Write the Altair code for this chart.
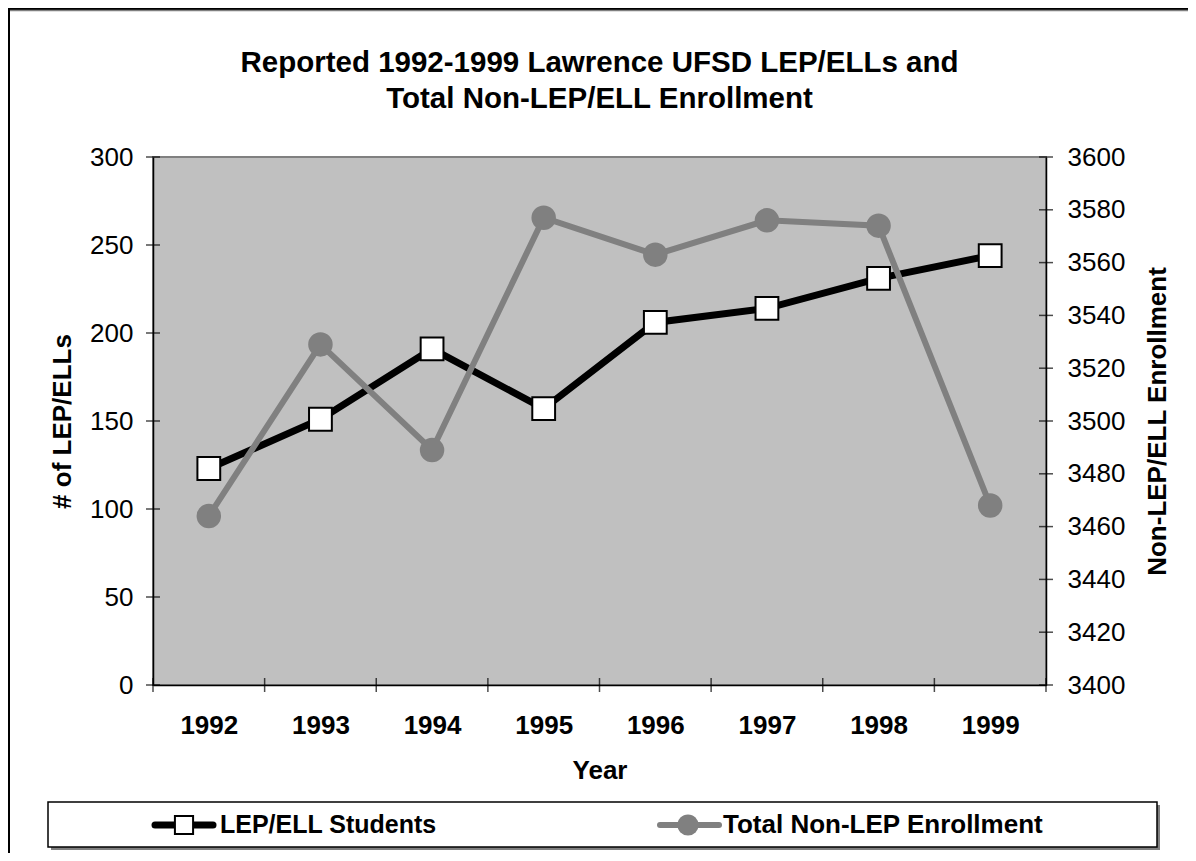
import altair as alt
import pandas as pd

# ---- data ----
years = [1992, 1993, 1994, 1995, 1996, 1997, 1998, 1999]
lep_students = [123, 151, 191, 157, 206, 214, 231, 244]
non_lep_enrollment = [3464, 3529, 3489, 3577, 3563, 3576, 3574, 3468]
left_tick_values = [0, 50, 100, 150, 200, 250, 300]
right_tick_values = [3400, 3420, 3440, 3460, 3480, 3500, 3520, 3540, 3560, 3580, 3600]
year_boundaries = [1991.5, 1992.5, 1993.5, 1994.5, 1995.5, 1996.5, 1997.5, 1998.5, 1999.5]
title_lines = ["Reported 1992-1999 Lawrence UFSD LEP/ELLs and", "Total Non-LEP/ELL Enrollment"]
series_names = ["LEP/ELL Students", "Total Non-LEP Enrollment"]
left_title = "# of LEP/ELLs"
right_title = "Non-LEP/ELL Enrollment"
x_title = "Year"

FONT = "Liberation Sans, Arial, Helvetica, sans-serif"
W, H = 893, 528
PAD = {"left": 145, "top": 149, "right": 142, "bottom": 168}
GRAY = "#808080"

df = pd.DataFrame({"year": years, "lep": lep_students, "non": non_lep_enrollment})
one = pd.DataFrame({"k": [0]})

x_axis = alt.Axis(
    title=x_title, values=years, format="d", ticks=False, tickSize=0, grid=False,
    domainColor="black", domainWidth=1.5,
    labelFont=FONT, labelFontSize=26, labelFontWeight="bold", labelColor="black",
    labelPadding=40, labelBaseline="middle", labelFlush=False, labelOverlap=False,
    titleFont=FONT, titleFontSize=26, titleFontWeight="bold", titleColor="black",
    titleY=85, titleBaseline="middle",
)


def xenc(field):
    return alt.X(f"{field}:Q", scale=alt.Scale(domain=[1991.5, 1999.5], nice=False, zero=False), axis=x_axis)


left_axis = alt.Axis(
    title=left_title, values=left_tick_values, format="d", ticks=False, tickSize=0, grid=False,
    domainColor="black", domainWidth=1.5,
    labelFont=FONT, labelFontSize=26, labelColor="black", labelPadding=20,
    titleFont=FONT, titleFontSize=26, titleFontWeight="bold", titleColor="black",
    titleX=-91, titleY=H / 2, titleAngle=270, titleAlign="center", titleBaseline="middle",
)
right_axis = alt.Axis(
    title=right_title, orient="right", values=right_tick_values, format="d", ticks=False, tickSize=0,
    grid=False, domainColor="black", domainWidth=1.5,
    labelFont=FONT, labelFontSize=26, labelColor="black", labelPadding=21,
    titleFont=FONT, titleFontSize=26, titleFontWeight="bold", titleColor="black",
    titleX=111, titleY=H / 2, titleAngle=270, titleAlign="center", titleBaseline="middle",
)


def yleft(field):
    return alt.Y(f"{field}:Q", scale=alt.Scale(domain=[0, 300], nice=False), axis=left_axis)


def yright(field):
    return alt.Y(f"{field}:Q", scale=alt.Scale(domain=[3400, 3600], nice=False, zero=False), axis=right_axis)


# ---- decorations: outer frame and legend box ----
frame_left = alt.Chart(one).mark_rule(color="black", strokeWidth=2).encode(
    x=alt.value(-144), y=alt.value(-148), y2=alt.value(H + PAD["bottom"]))
frame_top = alt.Chart(one).mark_rule(color="black", strokeWidth=2).encode(
    x=alt.value(-145), x2=alt.value(W + PAD["right"]), y=alt.value(-148))
frame_top_shadow = alt.Chart(one).mark_rule(color=GRAY, strokeWidth=1.5).encode(
    x=alt.value(-143), x2=alt.value(W + PAD["right"]), y=alt.value(-146.5))

LX0, LX1, LY0, LY1 = -105, 1004, 645, 690
LYC = 668
legend_shadow = alt.Chart(one).mark_rect(color=GRAY).encode(
    x=alt.value(LX0 + 3), x2=alt.value(LX1 + 3), y=alt.value(LY0 + 3), y2=alt.value(LY1 + 3))
legend_box = alt.Chart(one).mark_rect(fill="white", stroke="black", strokeWidth=1.5).encode(
    x=alt.value(LX0), x2=alt.value(LX1), y=alt.value(LY0), y2=alt.value(LY1))
leg1_line = alt.Chart(one).mark_rule(color="black", strokeWidth=7, strokeCap="round").encode(
    x=alt.value(2), x2=alt.value(60), y=alt.value(LYC))
leg1_pt = alt.Chart(one).mark_point(shape="square", filled=True, fill="white", stroke="black",
                                    strokeWidth=2, size=330, opacity=1).encode(
    x=alt.value(31), y=alt.value(LYC))
leg1_txt = alt.Chart(one).mark_text(text=series_names[0], font=FONT, fontSize=25, fontWeight="bold",
                                    align="left", baseline="middle", color="black").encode(
    x=alt.value(67), y=alt.value(LYC))
leg2_line = alt.Chart(one).mark_rule(color=GRAY, strokeWidth=6, strokeCap="round").encode(
    x=alt.value(507), x2=alt.value(566), y=alt.value(LYC))
leg2_pt = alt.Chart(one).mark_circle(color=GRAY, size=450, opacity=1).encode(
    x=alt.value(535), y=alt.value(LYC))
leg2_txt = alt.Chart(one).mark_text(text=series_names[1], font=FONT, fontSize=26, fontWeight="bold",
                                    align="left", baseline="middle", color="black").encode(
    x=alt.value(570), y=alt.value(LYC))

# ---- tick marks crossing the axes ----
x_ticks = alt.Chart(pd.DataFrame({"b": year_boundaries})).mark_tick(
    orient="vertical", size=14, thickness=1.5, color="black").encode(x=xenc("b"), y=alt.value(H))
left_ticks = alt.Chart(pd.DataFrame({"v": left_tick_values})).mark_tick(
    orient="horizontal", size=14, thickness=1.5, color="black").encode(y=yleft("v"), x=alt.value(0))
right_ticks = alt.Chart(pd.DataFrame({"v": right_tick_values})).mark_tick(
    orient="horizontal", size=14, thickness=1.5, color="black").encode(y=yright("v"), x=alt.value(W))

# ---- data series ----
base = alt.Chart(df)
lep_line = base.mark_line(color="black", strokeWidth=7).encode(x=xenc("year"), y=yleft("lep"))
lep_pts = base.mark_point(shape="square", filled=True, fill="white", stroke="black",
                          strokeWidth=2, size=520, opacity=1).encode(x=xenc("year"), y=yleft("lep"))
non_line = base.mark_line(color=GRAY, strokeWidth=6).encode(x=xenc("year"), y=yright("non"))
non_pts = base.mark_circle(color=GRAY, size=600, opacity=1).encode(x=xenc("year"), y=yright("non"))

left_group = alt.layer(
    frame_left, frame_top, frame_top_shadow, legend_shadow, legend_box,
    leg1_line, leg1_pt, leg1_txt, leg2_line, leg2_pt, leg2_txt,
    x_ticks, left_ticks, lep_line, lep_pts,
)
right_group = alt.layer(right_ticks, non_line, non_pts)

chart = (
    alt.layer(left_group, right_group)
    .resolve_scale(y="independent")
    .properties(
        width=W, height=H,
        padding=PAD,
        autosize=alt.AutoSizeParams(type="none"),
        background="white",
        title=alt.TitleParams(
            text=title_lines, font=FONT, fontSize=29.5, fontWeight="bold", color="black",
            anchor="middle", offset=-106, lineHeight=36,
        ),
    )
    .configure_view(fill="#c0c0c0", stroke=GRAY, strokeWidth=2)
)

chart.save("out.html", embed_options={"renderer": "svg", "actions": False})
